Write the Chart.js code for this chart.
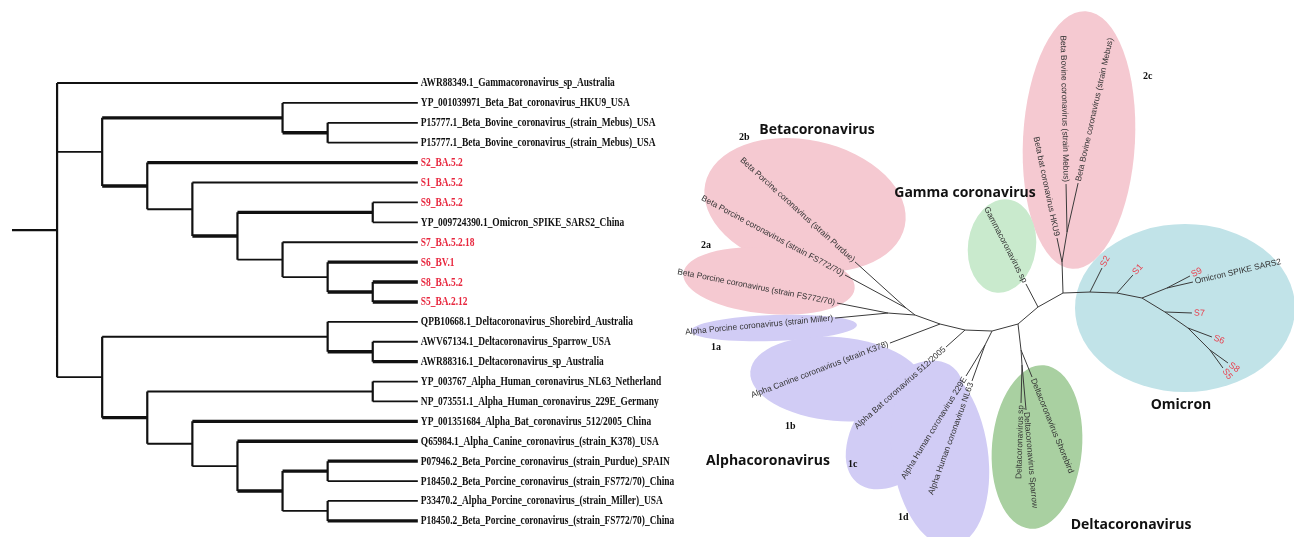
<!DOCTYPE html>
<html>
<head>
<meta charset="utf-8">
<script src="https://cdn.jsdelivr.net/npm/chart.js@4.4.0/dist/chart.umd.min.js"></script>
<style>
  html, body { margin: 0; background: #fff; }
  canvas { display: block; }
</style>
</head>
<body>
<canvas id="tree" width="1294" height="537"></canvas>
<script>
// ---- left: rectangular cladogram ----
const leafNames = [
  'AWR88349.1_Gammacoronavirus_sp_Australia',
  'YP_001039971_Beta_Bat_coronavirus_HKU9_USA',
  'P15777.1_Beta_Bovine_coronavirus_(strain_Mebus)_USA',
  'P15777.1_Beta_Bovine_coronavirus_(strain_Mebus)_USA',
  'S2_BA.5.2',
  'S1_BA.5.2',
  'S9_BA.5.2',
  'YP_009724390.1_Omicron_SPIKE_SARS2_China',
  'S7_BA.5.2.18',
  'S6_BV.1',
  'S8_BA.5.2',
  'S5_BA.2.12',
  'QPB10668.1_Deltacoronavirus_Shorebird_Australia',
  'AWV67134.1_Deltacoronavirus_Sparrow_USA',
  'AWR88316.1_Deltacoronavirus_sp_Australia',
  'YP_003767_Alpha_Human_coronavirus_NL63_Netherland',
  'NP_073551.1_Alpha_Human_coronavirus_229E_Germany',
  'YP_001351684_Alpha_Bat_coronavirus_512/2005_China',
  'Q65984.1_Alpha_Canine_coronavirus_(strain_K378)_USA',
  'P07946.2_Beta_Porcine_coronavirus_(strain_Purdue)_SPAIN',
  'P18450.2_Beta_Porcine_coronavirus_(strain_FS772/70)_China',
  'P33470.2_Alpha_Porcine_coronavirus_(strain_Miller)_USA',
  'P18450.2_Beta_Porcine_coronavirus_(strain_FS772/70)_China'
];
const sampleLeaves = [4, 5, 6, 8, 9, 10, 11];

// internal nodes: name, column (cladogram level), children (leaf index or node name)
const cladeNames    = ['root','A','A1','A1a','A2','A2a','A2b','A2c','A2d','A2e','A2f','B','B1','B1a','B2','B2a','B2b','B2c','B2d','B2e','B2f'];
const cladeLevels   = [1, 2, 6, 7, 3, 4, 5, 8, 6, 7, 8, 2, 7, 8, 3, 8, 4, 5, 6, 7, 7];
const cladeChildren = [[0,'A','B'], ['A1','A2'], [1,'A1a'], [2,3], [4,'A2a'], [5,'A2b'], ['A2c','A2d'], [6,7], [8,'A2e'], [9,'A2f'], [10,11],
                       ['B1','B2'], [12,'B1a'], [13,14], ['B2a','B2b'], [15,16], [17,'B2c'], [18,'B2d'], ['B2e','B2f'], [19,20], [21,22]];
const strongBranches = ['A1','A1a','A2',4,'A2b','A2c',9,10,'A2f',11,'B1a',14,'B2',17,18,'B2d','B2e',19,22];
const tipLevel = 9;

// ---- right: unrooted radial tree (branch lengths, direction in degrees) ----
const branchFrom   = ['G','P','Bb','Bb','Bv','Bv','P','O1','O1','O2','O2','O3','O4','O4','O3','O5','O5','O6','O6','O7','O7',
                      'G','G','D','Dn1','Dn1','Dn2','Dn2','D','H','Hn','Hn','H','Bt','Bt','Can','Can','X','Xa','Xa','X','Xb','Xb'];
const branchTo     = ['P','Bb','bat','Bv','bov1','bov2','O1','S2','O2','S1','O3','O4','S9','omi','O5','S7','O6','S6','O7','S8','S5',
                      'gam','D','Dn1','shore','Dn2','dsp','spar','H','Hn','h229','nl63','Bt','bat512','Can','k378','X','Xa','mil','fs2a','Xb','purdue','fs2b'];
const branchLength = [0.0716,0.0775,0.0613,0.076,0.12,0.1255,0.0675,0.067,0.0675,0.060,0.0637,0.0673,0.065,0.0667,0.0673,0.0675,0.07,0.064,0.0778,0.0555,0.0555,
                      0.065,0.0656,0.0654,0.073,0.0376,0.095,0.113,0.0673,0.039,0.091,0.0957,0.0675,0.0637,0.0643,0.134,0.0664,0.0677,0.133,0.13,0.0285,0.172,0.1735];
const branchAngle  = [29.2,91.8,101.8,80.5,91.2,77.3,2.1,63.4,-2.1,48.4,-11.3,21.8,27.6,13,-31.3,-2.1,-34.8,-20.6,-45,-35.8,-54.2,
                      117.6,220.4,-83.4,-67.8,-86.2,-91.5,-84.9,195.1,243.4,238.5,250.1,177.9,221.8,166.5,200.8,160.2,175.8,185.4,168.9,142.1,137.9,151.6];

const tipIds    = ['bat','bov1','bov2','S2','S1','S9','omi','S7','S6','S8','S5','gam','shore','dsp','spar','h229','nl63','bat512','k378','mil','fs2a','purdue','fs2b'];
const tipLabels = ['Beta bat coronavirus HKU9','Beta Bovine coronavirus (strain Mebus)','Beta Bovine coronavirus (strain Mebus)',
                   'S2','S1','S9','Omicron SPIKE SARS2','S7','S6','S8','S5','Gammacoronavirus sp',
                   'Deltacoronavirus Shorebird','Deltacoronavirus sp','Deltacoronavirus Sparrow',
                   'Alpha Human coronavirus 229E','Alpha Human coronavirus NL63','Alpha Bat coronavirus 512/2005',
                   'Alpha Canine coronavirus (strain K378)','Alpha Porcine coronavirus (strain Miller)',
                   'Beta Porcine coronavirus (strain FS772/70)','Beta Porcine coronavirus (strain Purdue)','Beta Porcine coronavirus (strain FS772/70)'];

// clade highlight ellipses and captions (tree units)
const hulls = [
  { c: '#f5c9d1', x: -0.5825, y: 0.255,  rx: 0.255,  ry: 0.1625, rot: 12 },
  { c: '#f5c9d1', x: -0.6725, y: 0.065,  rx: 0.215,  ry: 0.0825, rot: 5 },
  { c: '#f5c9d1', x: 0.1025,  y: 0.4175, rx: 0.14,   ry: 0.3225, rot: 3 },
  { c: '#c9eacd', x: -0.09,   y: 0.1525, rx: 0.085,  ry: 0.1175, rot: 8 },
  { c: '#c1e3e8', x: 0.3675,  y: -0.0025,rx: 0.275,  ry: 0.21,   rot: 0 },
  { c: '#d1ccf5', x: -0.66,   y: -0.0525,rx: 0.2075, ry: 0.0325, rot: -2 },
  { c: '#d1ccf5', x: -0.5025, y: -0.18,  rx: 0.2175, ry: 0.105,  rot: 5 },
  { c: '#d1ccf5', x: -0.3325, y: -0.295, rx: 0.1875, ry: 0.1125, rot: -50 },
  { c: '#d1ccf5', x: -0.245,  y: -0.37,  rx: 0.12,   ry: 0.23,   rot: -8 },
  { c: '#a9d0a1', x: -0.0025, y: -0.35,  rx: 0.1125, ry: 0.205,  rot: 5 }
];
const captions = [
  { t: 'Betacoronavirus',   x: -0.5525, y: 0.4425 },
  { t: 'Gamma coronavirus', x: -0.1825, y: 0.285 },
  { t: 'Omicron',           x: 0.3575,  y: -0.245 },
  { t: 'Deltacoronavirus',  x: 0.2325,  y: -0.545 },
  { t: 'Alphacoronavirus',  x: -0.675,  y: -0.385 }
];
const tags = [
  { t: '2b', x: -0.7475, y: 0.425 }, { t: '2a', x: -0.8425, y: 0.155 }, { t: '2c', x: 0.2625, y: 0.5775 },
  { t: '1a', x: -0.8175, y: -0.1 },  { t: '1b', x: -0.6325, y: -0.2975 },
  { t: '1c', x: -0.475, y: -0.3925 }, { t: '1d', x: -0.35, y: -0.525 }
];

// ---- build cladogram segments ----
const clade = {};
cladeNames.forEach((n, i) => clade[n] = { lvl: cladeLevels[i], kids: cladeChildren[i] });
function nodeY(ref) {
  if (typeof ref === 'number') return ref;
  const k = clade[ref].kids;
  return (nodeY(k[0]) + nodeY(k[k.length - 1])) / 2;
}
function nodeX(ref) { return typeof ref === 'number' ? tipLevel : clade[ref].lvl; }

const thinSeg = [], thickSeg = [], vertSeg = [];
cladeNames.forEach(n => {
  const c = clade[n];
  const ys = c.kids.map(nodeY);
  vertSeg.push({ x: c.lvl, y: Math.min(...ys) }, { x: c.lvl, y: Math.max(...ys) }, { x: null, y: null });
  c.kids.forEach(k => {
    const arr = strongBranches.includes(k) ? thickSeg : thinSeg;
    arr.push({ x: c.lvl, y: nodeY(k) }, { x: nodeX(k), y: nodeY(k) }, { x: null, y: null });
  });
});
const rootSeg = [{ x: 0, y: nodeY('root') }, { x: 1, y: nodeY('root') }];

// ---- build radial tree segments ----
const pos = { G: { x: 0, y: 0 } };
const dirOf = {};
const radialSeg = [];
branchFrom.forEach((p, i) => {
  const a = branchAngle[i] * Math.PI / 180;
  const s = pos[p];
  const e = { x: s.x + branchLength[i] * Math.cos(a), y: s.y + branchLength[i] * Math.sin(a) };
  pos[branchTo[i]] = e;
  dirOf[branchTo[i]] = branchAngle[i];
  radialSeg.push({ x: s.x, y: s.y }, e, { x: null, y: null });
});

const lineDs = (data, w, extra) => Object.assign({
  data, showLine: true, borderColor: '#111', borderWidth: w, pointRadius: 0,
  borderCapStyle: 'butt', spanGaps: false
}, extra || {});

const decor = {
  id: 'decor',
  beforeDatasetsDraw(chart) {
    const ctx = chart.ctx, sx = chart.scales.rx, sy = chart.scales.ry;
    const u = Math.abs(sx.getPixelForValue(1) - sx.getPixelForValue(0));
    hulls.forEach(h => {
      ctx.beginPath();
      ctx.ellipse(sx.getPixelForValue(h.x), sy.getPixelForValue(h.y), h.rx * u, h.ry * u, h.rot * Math.PI / 180, 0, Math.PI * 2);
      ctx.fillStyle = h.c;
      ctx.fill();
    });
  },
  afterDatasetsDraw(chart) {
    const ctx = chart.ctx;
    const lx = chart.scales.x, ly = chart.scales.y, sx = chart.scales.rx, sy = chart.scales.ry;
    ctx.save();
    // cladogram tip labels
    ctx.textBaseline = 'middle';
    ctx.textAlign = 'left';
    ctx.font = 'bold 11.5px "Liberation Serif", "Times New Roman", serif';
    leafNames.forEach((name, i) => {
      ctx.save();
      ctx.translate(lx.getPixelForValue(tipLevel) + 3, ly.getPixelForValue(i) + 0.5);
      ctx.scale(0.82, 1);
      ctx.fillStyle = sampleLeaves.includes(i) ? '#e8283f' : '#111';
      ctx.fillText(name, 0, 0);
      ctx.restore();
    });
    // radial tip labels
    tipIds.forEach((id, i) => {
      const p = pos[id], a = dirOf[id];
      const red = /^S\d$/.test(tipLabels[i]);
      const flip = a > 90 && a < 270 || a < -90;
      ctx.save();
      ctx.translate(sx.getPixelForValue(p.x), sy.getPixelForValue(p.y));
      ctx.rotate(-a * Math.PI / 180 + (flip ? Math.PI : 0));
      ctx.font = (red ? '9px' : '8.4px') + ' "Liberation Sans", Arial, sans-serif';
      ctx.fillStyle = red ? '#e8414f' : '#333';
      ctx.textAlign = flip ? 'right' : 'left';
      ctx.fillText(tipLabels[i], flip ? -2 : 2, 0);
      ctx.restore();
    });
    // clade captions
    ctx.textAlign = 'center';
    ctx.fillStyle = '#111';
    ctx.font = 'bold 14px "Open Sans", sans-serif';
    captions.forEach(c => ctx.fillText(c.t, sx.getPixelForValue(c.x), sy.getPixelForValue(c.y)));
    ctx.textAlign = 'left';
    ctx.font = 'bold 10px "Liberation Serif", serif';
    tags.forEach(c => ctx.fillText(c.t, sx.getPixelForValue(c.x), sy.getPixelForValue(c.y)));
    ctx.restore();
  }
};

new Chart(document.getElementById('tree').getContext('2d'), {
  type: 'scatter',
  data: {
    datasets: [
      lineDs(rootSeg, 2.4),
      lineDs(vertSeg, 2.2),
      lineDs(thinSeg, 1.8),
      lineDs(thickSeg, 3.4),
      lineDs(radialSeg, 1, { borderColor: '#3a3a3a', xAxisID: 'rx', yAxisID: 'ry' })
    ]
  },
  options: {
    responsive: false,
    animation: false,
    events: [],
    layout: { padding: 0 },
    plugins: { legend: { display: false }, tooltip: { enabled: false } },
    scales: {
      x:  { type: 'linear', display: false, min: -0.266, max: 28.43 },
      y:  { type: 'linear', display: false, min: -4.17, max: 22.81, reverse: true },
      rx: { type: 'linear', axis: 'x', display: false, min: -2.595, max: 0.64 },
      ry: { type: 'linear', axis: 'y', display: false, min: -0.575, max: 0.7675 }
    }
  },
  plugins: [decor]
});
</script>
</body>
</html>
